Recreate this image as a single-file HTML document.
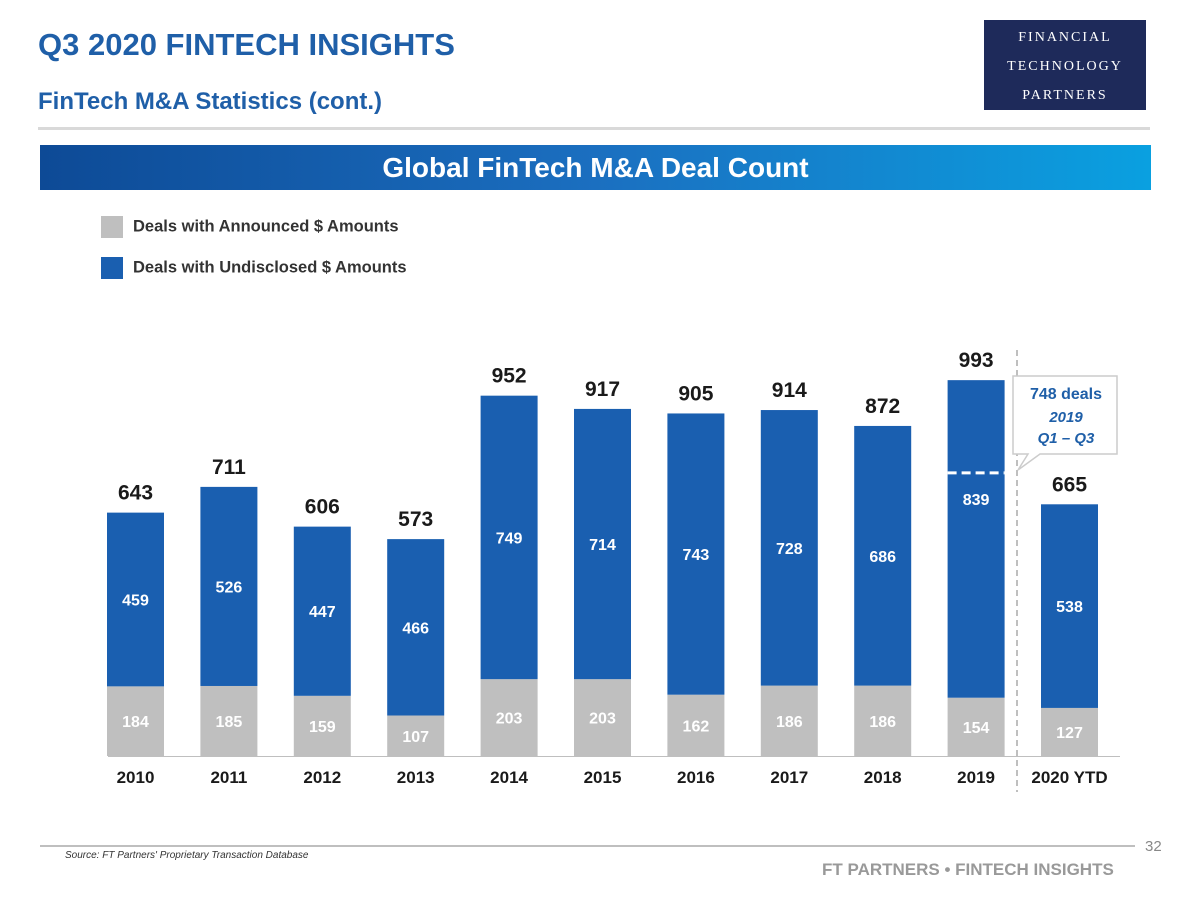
<!DOCTYPE html>
<html><head><meta charset="utf-8"><style>
body{margin:0;width:1200px;height:900px;background:#fff;font-family:"Liberation Sans",sans-serif;position:relative;overflow:hidden}
.abs{position:absolute}
</style></head><body>
<div class="abs" style="left:38px;top:27px;font-size:31px;font-weight:bold;color:#1f5fa8">Q3 2020 FINTECH INSIGHTS</div>
<div class="abs" style="left:38px;top:88px;font-size:24px;font-weight:bold;color:#1f5fa8">FinTech M&amp;A Statistics (cont.)</div>
<div class="abs" style="left:984px;top:20px;width:162px;height:90px;background:#1e2a5a;color:#fff;font-family:'Liberation Serif',serif;font-size:14px;letter-spacing:2px;text-align:center;line-height:29px;padding-top:3px;box-sizing:border-box">FINANCIAL<br>TECHNOLOGY<br>PARTNERS</div>
<div class="abs" style="left:38px;top:127px;width:1112px;height:3px;background:#d9d9d9"></div>
<div class="abs" style="left:40px;top:145px;width:1111px;height:45px;background:linear-gradient(90deg,#0d4a96,#1b6fc0 50%,#0aa0e0);color:#fff;font-size:28px;font-weight:bold;text-align:center;line-height:45px">Global FinTech M&amp;A Deal Count</div>
<div class="abs" style="left:101px;top:216px;font-size:16.5px;font-weight:bold;color:#333"><span style="display:inline-block;width:22px;height:22px;background:#bfbfbf;vertical-align:middle;margin-right:10px"></span>Deals with Announced $ Amounts</div>
<div class="abs" style="left:101px;top:257px;font-size:16.5px;font-weight:bold;color:#333"><span style="display:inline-block;width:22px;height:22px;background:#1a5fb0;vertical-align:middle;margin-right:10px"></span>Deals with Undisclosed $ Amounts</div>
<svg class="abs" style="left:0;top:0" width="1200" height="900" id="chart"></svg>
<div class="abs" style="left:40px;top:845px;width:1095px;height:2px;background:#bfbfbf"></div>
<div class="abs" style="left:65px;top:850px;font-size:10px;font-style:italic;color:#333">Source: FT Partners' Proprietary Transaction Database</div>
<div class="abs" style="left:1145px;top:838px;font-size:15px;color:#888">32</div>
<div class="abs" style="left:822px;top:860px;font-size:17px;font-weight:bold;color:#999">FT PARTNERS • FINTECH INSIGHTS</div>
<script>
const categories=["2010","2011","2012","2013","2014","2015","2016","2017","2018","2019","2020 YTD"];
const announced=[184,185,159,107,203,203,162,186,186,154,127];
const undisclosed=[459,526,447,466,749,714,743,728,686,839,538];
const totals=[643,711,606,573,952,917,905,914,872,993,665];
const q3Line=748;
const svg=document.getElementById('chart');const NS='http://www.w3.org/2000/svg';
const base=756,k=0.3785,x0=135.5,pitch=93.4,bw=57;
const y=v=>base-v*k, xc=i=>x0+i*pitch;
function mk(t,a,txt){const e=document.createElementNS(NS,t);for(const n in a)e.setAttribute(n,a[n]);if(txt!=null)e.textContent=txt;svg.appendChild(e);return e;}
categories.forEach((c,i)=>{
 const x=xc(i)-bw/2,a=announced[i],u=undisclosed[i];
 let r=mk('rect',{x:x,y:y(a),width:bw,height:a*k,fill:'#bfbfbf'});
 
 
 r=mk('rect',{x:x,y:y(a+u),width:bw,height:u*k,fill:'#1a5fb0'});
 
 
 const st={'text-anchor':'middle','font-size':16,'font-weight':'bold',fill:'#fff','font-family':'Liberation Sans'};
 let t=mk('text',Object.assign({x:xc(i),y:y(a/2)+6},st),a);
 
 
 const uy=i===9?y(q3Line)+32:y(a+u/2)+6;
 t=mk('text',Object.assign({x:xc(i),y:uy},st),u);
 
 
 t=mk('text',{x:xc(i),y:y(totals[i])-13,'text-anchor':'middle','font-size':21,'font-weight':'bold',fill:'#1a1a1a'},totals[i]);
 
 
 t=mk('text',{x:xc(i),y:783,'text-anchor':'middle','font-size':17,'font-weight':'bold',fill:'#1a1a1a'},c);
 
 
});
let l=mk('line',{x1:108,x2:1120,y1:756.5,y2:756.5,stroke:'#bfbfbf','stroke-width':1});


l=mk('line',{x1:xc(9)-bw/2,x2:xc(9)+bw/2,y1:y(q3Line),y2:y(q3Line),stroke:'#fff','stroke-width':3,'stroke-dasharray':'9,5'});


l=mk('line',{x1:1017,x2:1017,y1:350,y2:792,stroke:'#bfbfbf','stroke-width':2,'stroke-dasharray':'6,4'});


const g=mk('g',{});


mk('path',{d:'M1013 376 H1117 V454 H1040 L1018 470 L1028 454 H1013 Z',fill:'#fff',stroke:'#ccc','stroke-width':1.5});
mk('text',{x:1066,y:399,'text-anchor':'middle','font-size':16,'font-weight':'bold',fill:'#1f5fa8'},'748 deals');
mk('text',{x:1066,y:422,'text-anchor':'middle','font-size':15,'font-weight':'bold','font-style':'italic',fill:'#1f5fa8'},'2019');
mk('text',{x:1066,y:443,'text-anchor':'middle','font-size':15,'font-weight':'bold','font-style':'italic',fill:'#1f5fa8'},'Q1 – Q3');
</script>
</body></html>
